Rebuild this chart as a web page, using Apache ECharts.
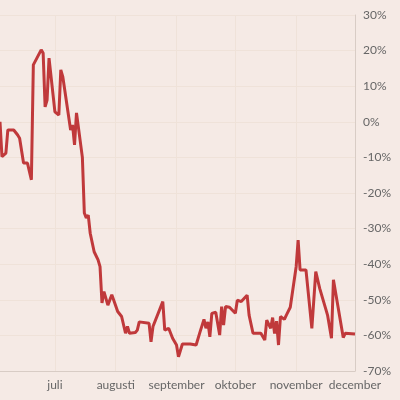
<!DOCTYPE html>
<html>
<head>
<meta charset="utf-8">
<script src="https://cdn.jsdelivr.net/npm/echarts@6/dist/echarts.min.js"></script>
<style>
  html, body { margin: 0; padding: 0; background: #f5eae5; }
  #chart { width: 400px; height: 400px; }
</style>
</head>
<body>
<div id="chart"></div>
<script>
// dates and % change
const dates = [
  '2020-06-03', '2020-06-04', '2020-06-06', '2020-06-07', '2020-06-10', '2020-06-12', '2020-06-13',
  '2020-06-15', '2020-06-17', '2020-06-19', '2020-06-20', '2020-06-24', '2020-06-25', '2020-06-26',
  '2020-06-27', '2020-06-28', '2020-07-01', '2020-07-02', '2020-07-03', '2020-07-04', '2020-07-05',
  '2020-07-09', '2020-07-10', '2020-07-11', '2020-07-12', '2020-07-15', '2020-07-16', '2020-07-17',
  '2020-07-18', '2020-07-19', '2020-07-21', '2020-07-23', '2020-07-24', '2020-07-25', '2020-07-26',
  '2020-07-28', '2020-07-30', '2020-07-31', '2020-08-02', '2020-08-04', '2020-08-05', '2020-08-06',
  '2020-08-07', '2020-08-08', '2020-08-11', '2020-08-12', '2020-08-13', '2020-08-14', '2020-08-18',
  '2020-08-19', '2020-08-20', '2020-08-21', '2020-08-25', '2020-08-26', '2020-08-27', '2020-08-28',
  '2020-08-30', '2020-09-01', '2020-09-02', '2020-09-04', '2020-09-08', '2020-09-09', '2020-09-11',
  '2020-09-13', '2020-09-15', '2020-09-16', '2020-09-17', '2020-09-18', '2020-09-19', '2020-09-21',
  '2020-09-22', '2020-09-23', '2020-09-24', '2020-09-25', '2020-09-26', '2020-09-28', '2020-10-01',
  '2020-10-02', '2020-10-04', '2020-10-05', '2020-10-07', '2020-10-08', '2020-10-10', '2020-10-14',
  '2020-10-16', '2020-10-17', '2020-10-19', '2020-10-20', '2020-10-21', '2020-10-22', '2020-10-23',
  '2020-10-24', '2020-10-26', '2020-10-27', '2020-10-28', '2020-10-29', '2020-10-30', '2020-11-01',
  '2020-11-02', '2020-11-03', '2020-11-04', '2020-11-06', '2020-11-09', '2020-11-11', '2020-11-13',
  '2020-11-16', '2020-11-17', '2020-11-19', '2020-11-20', '2020-11-25', '2020-11-26', '2020-12-01'
]
const values = [
  0, -9.8, -8.8, -2.3, -2.3, -3.7, -4.6,
  -11.6, -11.6, -16.3, 16.0, 20.2, 19.3, 4.2,
  6.1, 17.9, 2.8, 3.1, 1.9, 14.6, 12.7,
  -2.3, -0.9, -6.5, 2.5, -10.0, -25.6, -27.0,
  -26.2, -31.3, -36.5, -38.8, -40.7, -50.9, -47.7,
  -51.5, -48.6, -50.1, -53.3, -54.7, -55.2, -59.4,
  -57.5, -59.4, -59.2, -58.5, -56.2, -56.6, -56.6,
  -61.8, -57.5, -57.5, -50.5, -58.5, -59.0, -58.0,
  -60.8, -62.7, -66.0, -62.4, -62.4, -62.7, -62.7,
  -59.0, -55.5, -58.0, -56.2, -60.4, -53.8, -53.5,
  -53.3, -59.9, -51.9, -57.1, -51.9, -52.1, -53.8,
  -50.1, -50.5, -51.0, -48.7, -54.3, -59.4, -59.4,
  -61.3, -55.7, -58.0, -55.0, -59.5, -56.0, -62.7,
  -54.7, -55.5, -54.3, -54.6, -52.1, -51.7, -40.7,
  -33.2, -41.6, -41.2, -41.6, -58.0, -42.1, -46.8,
  -52.4, -54.3, -60.8, -44.4, -60.6, -59.4, -59.6
]
const monthTicks = ['2020-07-01', '2020-08-01', '2020-09-01', '2020-10-01', '2020-11-01', '2020-12-01']
const monthNames = ['juli', 'augusti', 'september', 'oktober', 'november', 'december']

const toTime = (d) => Date.UTC(+d.slice(0, 4), +d.slice(5, 7) - 1, +d.slice(8, 10))
const tickTimes = monthTicks.map(toTime)
const seriesData = dates.map((d, i) => [toTime(d), values[i]])

const chart = echarts.init(document.getElementById('chart'))

const option = {
  backgroundColor: '#f5eae5',
  animation: false,
  grid: { left: 0, right: 45, top: 15, bottom: 29 },
  xAxis: {
    type: 'value',
    min: toTime(dates[0]),
    max: toTime(dates[dates.length - 1]),
    axisLine: { show: true, onZero: false, lineStyle: { color: '#d8ccc5', width: 1 } },
    axisTick: { show: false, customValues: tickTimes },
    axisLabel: {
      customValues: tickTimes,
      color: '#666',
      fontFamily: 'Lato',
      fontSize: 12,
      margin: 8,
      formatter: (v) => monthNames[tickTimes.indexOf(v)] || ''
    },
    splitLine: { show: true, lineStyle: { color: '#efe2d9', width: 1 } }
  },
  yAxis: {
    type: 'value',
    position: 'right',
    min: -70,
    max: 30,
    interval: 10,
    axisLine: { show: true, onZero: false, lineStyle: { color: '#d8ccc5', width: 1 } },
    axisTick: { show: false },
    axisLabel: {
      color: '#666',
      fontFamily: 'Lato',
      fontSize: 12,
      margin: 8,
      formatter: (v) => v + '%'
    },
    splitLine: { show: true, lineStyle: { color: '#efe2d9', width: 1 } }
  },
  series: [
    {
      type: 'line',
      data: seriesData,
      showSymbol: false,
      lineStyle: { color: '#c0393b', width: 3 },
      clip: false
    }
  ]
}

chart.setOption(option)
</script>
</body>
</html>
